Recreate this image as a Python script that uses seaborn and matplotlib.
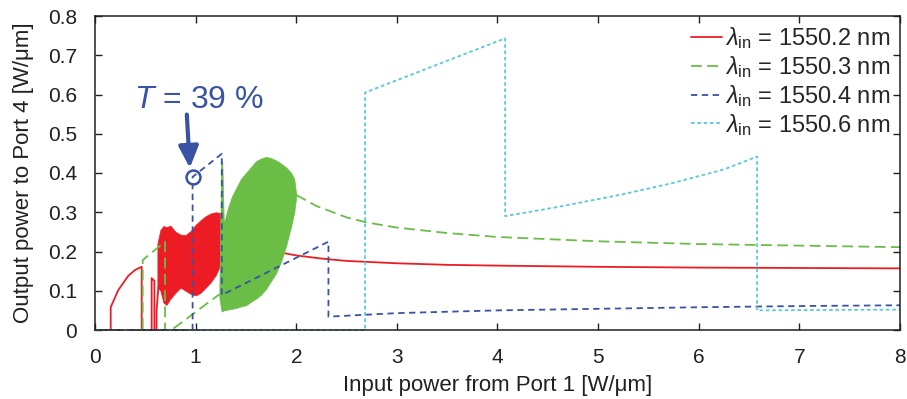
import matplotlib
matplotlib.use("Agg")
import matplotlib.pyplot as plt
import seaborn as sns

# ---- data ----
red_pre_x = [0, 0.156, 0.156, 0.232, 0.331, 0.398, 0.464, 0.464, 0.563, 0.563, 0.59, 0.59, 0.612, 0.612, 0.63]
red_pre_y = [0, 0, 0.058, 0.102, 0.138, 0.153, 0.161, 0, 0, 0.132, 0.125, 0, 0, 0.05, 0.11]
red_band_x = [0.62, 0.65, 0.68, 0.71, 0.75, 0.80, 0.85, 0.90, 0.95, 1.00, 1.05, 1.10, 1.15, 1.20, 1.245]
red_band_hi = [0.22, 0.255, 0.265, 0.262, 0.266, 0.25, 0.243, 0.242, 0.252, 0.268, 0.28, 0.29, 0.297, 0.30, 0.298]
red_band_lo = [0.11, 0.10, 0.07, 0.064, 0.08, 0.095, 0.108, 0.10, 0.092, 0.088, 0.095, 0.108, 0.122, 0.14, 0.165]
red_post_x = [1.24, 1.5, 1.75, 2.0, 2.25, 2.5, 3.0, 3.5, 4.0, 5.0, 6.0, 7.0, 8.0]
red_post_y = [0.222, 0.212, 0.202, 0.19, 0.182, 0.176, 0.170, 0.166, 0.164, 0.161, 0.159, 0.158, 0.157]

green_pre_x = [0, 0.474, 0.474, 0.696, 0.696, 0.76, 1.226, 1.24]
green_pre_y = [0, 0, 0.178, 0.225, 0, 0, 0.089, 0.09]
green_band_x = [1.235, 1.255, 1.265, 1.28, 1.32, 1.36, 1.40, 1.45, 1.50, 1.55, 1.60, 1.65,
                1.70, 1.75, 1.80, 1.85, 1.90, 1.95, 1.98, 2.0]
green_band_hi = [0.09, 0.43, 0.43, 0.27, 0.31, 0.34, 0.36, 0.385, 0.40, 0.415, 0.43, 0.437,
                 0.441, 0.438, 0.432, 0.424, 0.414, 0.40, 0.385, 0.345]
green_band_lo = [0.085, 0.05, 0.047, 0.05, 0.052, 0.054, 0.056, 0.06, 0.063, 0.072, 0.08, 0.09,
                 0.105, 0.125, 0.145, 0.175, 0.215, 0.265, 0.30, 0.34]
green_post_x = [2.0, 2.2, 2.5, 2.7, 3.0, 3.5, 4.0, 5.0, 6.0, 7.0, 8.0]
green_post_y = [0.344, 0.316, 0.287, 0.274, 0.261, 0.247, 0.237, 0.226, 0.219, 0.215, 0.211]

blue_x = [0, 0.97, 0.97, 1.26, 1.26, 2.32, 2.32, 3.0, 4.0, 5.0, 6.0, 7.0, 8.0]
blue_y = [0, 0, 0.39, 0.449, 0.089, 0.225, 0.034, 0.043, 0.050, 0.054, 0.058, 0.061, 0.063]

cyan_x = [0, 2.684, 2.684, 4.076, 4.076, 4.59, 5.25, 5.75, 6.25, 6.58, 6.58, 8.0]
cyan_y = [0, 0, 0.605, 0.743, 0.29, 0.313, 0.346, 0.375, 0.409, 0.442, 0.05, 0.052]

labels = [r"$\lambda_{\rm in}$ = 1550.2 nm", r"$\lambda_{\rm in}$ = 1550.3 nm",
          r"$\lambda_{\rm in}$ = 1550.4 nm", r"$\lambda_{\rm in}$ = 1550.6 nm"]
x_ticks = [0, 1, 2, 3, 4, 5, 6, 7, 8]
y_ticks = [0, 0.1, 0.2, 0.3, 0.4, 0.5, 0.6, 0.7, 0.8]
y_ticklabels = ["0", "0.1", "0.2", "0.3", "0.4", "0.5", "0.6", "0.7", "0.8"]
marked_x, marked_y = 0.97, 0.39

RED = "#ED1C24"
GREEN = "#6ABD45"
BLUE = "#3953A4"
CYAN = "#5BC8DC"
TXT = "#231F20"

sns.set_style("ticks")
plt.rcParams["font.family"] = ["Liberation Sans", "DejaVu Sans"]
plt.rcParams["mathtext.fontset"] = "custom"
plt.rcParams["mathtext.rm"] = "Liberation Sans"
plt.rcParams["mathtext.it"] = "Liberation Sans:italic"

fig = plt.figure(figsize=(9.07, 3.99), dpi=100)
ax = fig.add_axes([95 / 907, 69 / 399, 805 / 907, 314 / 399])

lw = 1.3
# red
sns.lineplot(x=red_pre_x, y=red_pre_y, color=RED, lw=lw, sort=False, estimator=None,
             ax=ax, label=labels[0], clip_on=False)
ax.fill_between(red_band_x, red_band_lo, red_band_hi, color=RED, lw=0.5, zorder=2)
sns.lineplot(x=red_post_x, y=red_post_y, color=RED, lw=lw, sort=False, estimator=None, ax=ax)

# green
sns.lineplot(x=green_pre_x, y=green_pre_y, color=GREEN, lw=lw, sort=False, estimator=None,
             ax=ax, label=labels[1], linestyle=(0, (6, 3)), clip_on=False, zorder=2.1)
ax.fill_between(green_band_x, green_band_lo, green_band_hi, color=GREEN, lw=0.5, zorder=2.1)
sns.lineplot(x=green_post_x, y=green_post_y, color=GREEN, lw=lw, sort=False, estimator=None,
             ax=ax, linestyle=(0, (6, 3)), zorder=2.1)

# blue
sns.lineplot(x=blue_x, y=blue_y, color=BLUE, lw=lw, sort=False, estimator=None,
             ax=ax, label=labels[2], linestyle=(0, (3.5, 2.5)), clip_on=False, zorder=2.2)

# cyan
sns.lineplot(x=cyan_x, y=cyan_y, color=CYAN, lw=lw, sort=False, estimator=None,
             ax=ax, label=labels[3], linestyle=(0, (2, 1.5)), clip_on=False, zorder=2.3)

# annotation
ax.plot([marked_x], [marked_y], marker="o", ms=10, mfc="none", mec=BLUE, mew=1.8, zorder=5)
ax.annotate("", xy=(0.944, 0.406), xytext=(0.911, 0.556),
            arrowprops=dict(arrowstyle="-|>,head_length=1.3,head_width=0.6",
                            color=BLUE, lw=3))
ax.text(1.03, 0.566, r"$T$ = 39 %", color=BLUE, fontsize=23, ha="center", va="baseline")

ax.set_xlim(0, 8)
ax.set_ylim(0, 0.8)
ax.set_xticks(x_ticks)
ax.set_xticklabels([str(v) for v in x_ticks])
ax.set_yticks(y_ticks)
ax.set_yticklabels(y_ticklabels)
ax.tick_params(direction="in", top=True, right=True, length=5, width=1,
               labelsize=15, labelcolor=TXT, color=TXT)
ax.tick_params(axis="x", pad=13)
ax.tick_params(axis="y", pad=13)
for s in ax.spines.values():
    s.set_visible(True)
    s.set_color(TXT)
    s.set_linewidth(1.1)

ax.set_xlabel("Input power from Port 1 [W/μm]", fontsize=16, color=TXT, labelpad=6)
ax.set_ylabel("Output power to Port 4 [W/μm]", fontsize=16, color=TXT, labelpad=10)

ax.legend(loc="upper right", frameon=False, fontsize=17, handlelength=1.3,
          handletextpad=0.15, labelspacing=0.12, borderaxespad=0.0,
          bbox_to_anchor=(1.0, 1.0))

fig.savefig("out.png", dpi=100)
